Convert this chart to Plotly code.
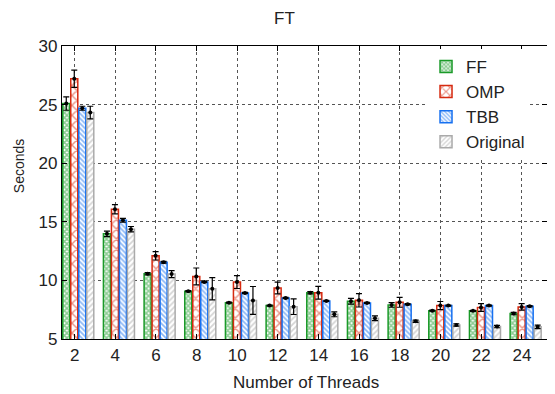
import plotly.graph_objects as go

threads = [2, 4, 6, 8, 10, 12, 14, 16, 18, 20, 22, 24]
tick_labels = [str(t) for t in threads]

ff = [25.09, 13.97, 10.57, 9.07, 8.10, 7.85, 8.95, 8.22, 7.91, 7.42, 7.40, 7.17]
ff_err = [0.57, 0.24, 0.10, 0.05, 0.05, 0.05, 0.10, 0.24, 0.20, 0.05, 0.05, 0.10]
omp = [27.21, 16.07, 12.10, 10.34, 9.86, 9.35, 8.95, 8.30, 8.13, 7.85, 7.68, 7.74]
omp_err = [0.74, 0.40, 0.36, 0.72, 0.55, 0.50, 0.54, 0.57, 0.42, 0.35, 0.33, 0.28]
tbb = [24.69, 15.14, 11.55, 9.86, 8.93, 8.50, 8.25, 8.08, 7.96, 7.85, 7.85, 7.79]
tbb_err = [0.17, 0.16, 0.08, 0.05, 0.05, 0.05, 0.05, 0.05, 0.05, 0.05, 0.05, 0.05]
orig = [24.32, 14.37, 10.54, 9.29, 8.29, 7.76, 7.11, 6.77, 6.51, 6.20, 6.06, 6.04]
orig_err = [0.54, 0.23, 0.30, 0.95, 1.19, 0.67, 0.21, 0.20, 0.10, 0.10, 0.10, 0.15]

series = [
    ("FF", ff, ff_err, "#1a9a28", "x", 3.5, 0.7),
    ("OMP", omp, omp_err, "#d62a10", "x", 7, 0.38),
    ("TBB", tbb, tbb_err, "#1670f0", "\\", 3.5, 0.5),
    ("Original", orig, orig_err, "#aaaaaa", "/", 4, 0.45),
]

font = "Liberation Sans, Arial, Helvetica, sans-serif"
fig = go.Figure()
for i, (name, vals, err, col, shape, size, sol) in enumerate(series):
    fig.add_trace(go.Bar(
        x=threads, y=vals, name=name, offsetgroup=str(i),
        marker=dict(color="white", line=dict(color=col, width=1.5),
                    pattern=dict(shape=shape, size=size, solidity=sol,
                                 fgcolor=col, bgcolor="white", fillmode="overlay")),
        error_y=dict(type="data", array=err, color="black", thickness=1.2, width=3),
        hoverinfo="skip",
    ))
for i, (name, vals, err, col, shape, size, sol) in enumerate(series):
    fig.add_trace(go.Scatter(
        x=threads, y=vals, mode="markers", offsetgroup=str(i), showlegend=False,
        marker=dict(color="black", size=4),
        hoverinfo="skip",
    ))

axis_common = dict(showline=True, linecolor="black", linewidth=1.2, mirror="ticks",
                   ticks="inside", ticklen=5, tickcolor="black",
                   showgrid=True, gridcolor="#555", griddash="dot", gridwidth=1,
                   zeroline=False,
                   tickfont=dict(family=font, size=17, color="#222"))

fig.update_layout(
    width=547, height=386,
    margin=dict(l=54, r=8, t=38, b=55),
    paper_bgcolor="white", plot_bgcolor="white",
    barmode="group", bargap=0.213, bargroupgap=0.12,
    scattermode="group", scattergap=0.213,
    font=dict(family=font, size=17, color="#222"),
    xaxis=dict(range=[1.2, 25.05], tickvals=[t - 0.18 for t in threads],
               ticktext=tick_labels, **axis_common),
    yaxis=dict(range=[5, 30], tickvals=[5, 10, 15, 20, 25, 30], **axis_common),
    legend=dict(x=0.965, xanchor="right", y=0.99, yanchor="top",
                bgcolor="white", font=dict(family=font, size=17, color="#222"),
                tracegroupgap=0),
    showlegend=True,
    annotations=[
        dict(text="FT", xref="paper", yref="paper", x=0.459, y=1.0, yshift=27.5,
             showarrow=False, font=dict(family=font, size=17, color="#222"),
             xanchor="center", yanchor="middle"),
        dict(text="Number of Threads", xref="paper", yref="paper", x=0.503, y=0,
             yshift=-43, showarrow=False, font=dict(family=font, size=17, color="#222"),
             xanchor="center", yanchor="middle"),
        dict(text="Seconds", xref="paper", yref="paper", x=0, xshift=-43, y=0.59,
             textangle=-90, showarrow=False,
             font=dict(family=font, size=14, color="#222"),
             xanchor="center", yanchor="middle"),
    ],
)

fig.write_html("out.html")
